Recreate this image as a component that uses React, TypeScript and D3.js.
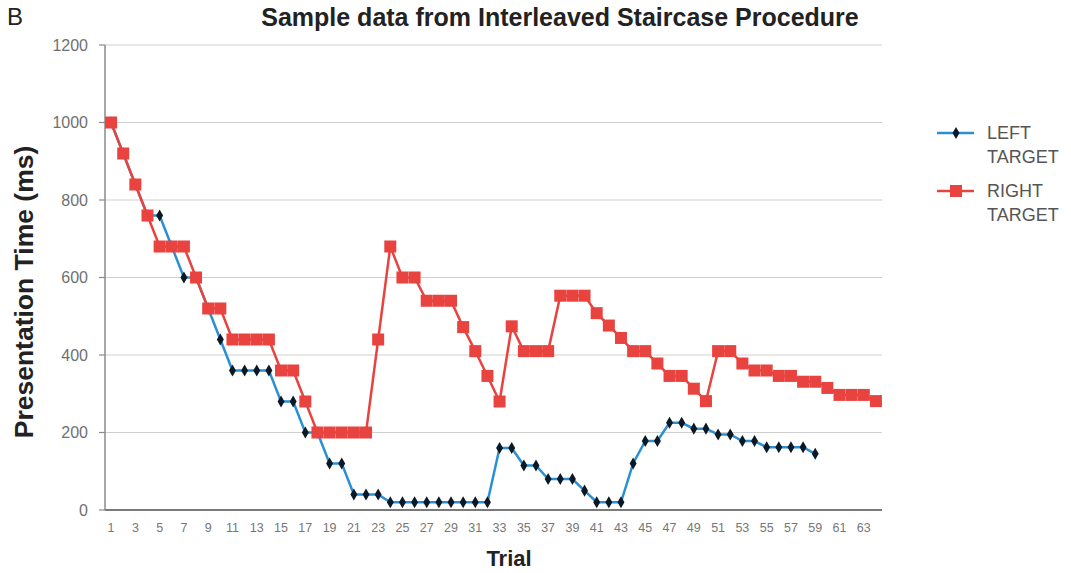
import React from 'react';
import * as d3 from 'd3';

// trials 1..64
const trials = d3.range(1, 65);

const leftTarget = [
  1000, 920, 840, 760, 760, 680, 600, 600, 520, 440,
  360, 360, 360, 360, 280, 280, 200, 200, 120, 120,
  40, 40, 40, 20, 20, 20, 20, 20, 20, 20,
  20, 20, 160, 160, 115, 115, 80, 80, 80, 50,
  20, 20, 20, 120, 178, 178, 225, 225, 210, 210,
  195, 195, 178, 178, 162, 162, 162, 162, 145,
];

const rightTarget = [
  1000, 920, 840, 760, 680, 680, 680, 600, 520, 520,
  440, 440, 440, 440, 360, 360, 280, 200, 200, 200,
  200, 200, 440, 680, 600, 600, 540, 540, 540, 472,
  410, 346, 280, 474, 410, 410, 410, 553, 553, 553,
  508, 476, 444, 410, 410, 378, 346, 346, 313, 281,
  410, 410, 378, 360, 360, 346, 346, 331, 331, 315,
  297, 297, 297, 281,
];

const yTicks = [0, 200, 400, 600, 800, 1000, 1200];
const xTickLabels = trials.filter(t => t % 2 === 1);

const legendItems = [
  { name: ['LEFT', 'TARGET'], key: 'left' },
  { name: ['RIGHT', 'TARGET'], key: 'right' },
];

const RED = '#e8433f';
const BLUE = '#2a90d4';
const font = '"Liberation Sans", Arial, sans-serif';

const App = () => {
  const x = d3.scalePoint<number>().domain(trials).range([105, 882]).padding(0.5);
  const y = d3.scaleLinear().domain([0, 1200]).range([510, 45]);

  const line = d3.line<number>()
    .x((d, i) => x(i + 1) as number)
    .y(d => y(d));

  const diamond = d3.symbol().type(d3.symbolDiamond).size(42)();

  return (
    <div style={{ position: 'absolute', left: 0, top: 0 }}>
      <svg width={1071} height={573} style={{ display: 'block', background: '#fff' }}>
        {/* panel letter and title */}
        <text x={7} y={25} fontFamily={font} fontSize={24} fill="#222">B</text>
        <text x={560} y={26} textAnchor="middle" fontFamily={font} fontSize={25} fontWeight="bold" fill="#222">
          Sample data from Interleaved Staircase Procedure
        </text>

        {/* gridlines */}
        {yTicks.filter(t => t > 0).map(t => (
          <line key={t} x1={105} x2={882} y1={y(t)} y2={y(t)} stroke="#cfcfcf" strokeWidth={1.2} />
        ))}

        {/* y axis */}
        <line x1={105} x2={105} y1={y(1200)} y2={y(0)} stroke="#8a8a8a" strokeWidth={1.5} />
        {yTicks.map(t => (
          <g key={t}>
            <line x1={99} x2={105} y1={y(t)} y2={y(t)} stroke="#8a8a8a" strokeWidth={1.2} />
            <text x={88} y={y(t)} dy="0.35em" textAnchor="end" fontFamily={font} fontSize={16} fill="#707070">{t}</text>
          </g>
        ))}
        <text transform={`translate(33,292) rotate(-90)`} textAnchor="middle" fontFamily={font} fontSize={26.5} fontWeight="bold" fill="#222">
          Presentation Time (ms)
        </text>

        {/* x axis */}
        <line x1={105} x2={882} y1={y(0)} y2={y(0)} stroke="#7a7a7a" strokeWidth={2} />
        {xTickLabels.map(t => (
          <text key={t} x={x(t)} y={532} textAnchor="middle" fontFamily={font} fontSize={12.5} fill="#777">{t}</text>
        ))}
        <text x={509} y={566} textAnchor="middle" fontFamily={font} fontSize={22} fontWeight="bold" fill="#222">Trial</text>

        {/* left target series */}
        <path d={line(leftTarget) || ''} fill="none" stroke={BLUE} strokeWidth={2.5} />
        {leftTarget.map((v, i) => (
          <path key={i} d={diamond || ''} transform={`translate(${x(i + 1)},${y(v)})`} fill="#0b1826" />
        ))}

        {/* right target series */}
        <path d={line(rightTarget) || ''} fill="none" stroke={RED} strokeWidth={2.5} />
        {rightTarget.map((v, i) => (
          <rect key={i} x={(x(i + 1) as number) - 6} y={y(v) - 6} width={12} height={12} fill={RED} />
        ))}

        {/* legend */}
        {legendItems.map((item, i) => {
          const ly = 133 + i * 58;
          return (
            <g key={item.key}>
              <line x1={937} x2={974} y1={ly} y2={ly} stroke={item.key === 'left' ? BLUE : RED} strokeWidth={2.5} />
              {item.key === 'left'
                ? <path d={diamond || ''} transform={`translate(956,${ly})`} fill="#0b1826" />
                : <rect x={950} y={ly - 6} width={12} height={12} fill={RED} />}
              {item.name.map((n, j) => (
                <text key={n} x={987} y={ly + j * 24} dy="0.35em" fontFamily={font} fontSize={18} fill="#555">{n}</text>
              ))}
            </g>
          );
        })}
      </svg>
    </div>
  );
};

export default App;
